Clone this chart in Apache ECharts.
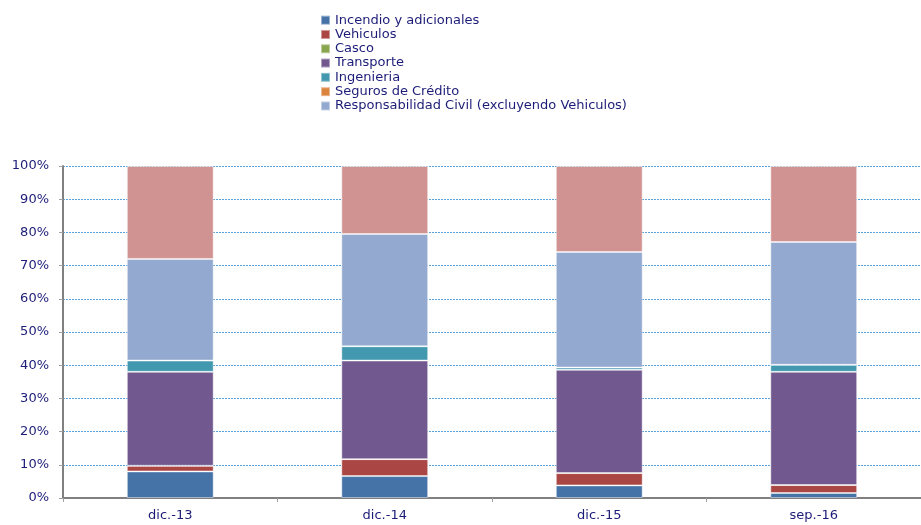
<!DOCTYPE html>
<html>
<head>
<meta charset="utf-8">
<script src="https://cdn.jsdelivr.net/npm/echarts@6/dist/echarts.min.js"></script>
<style>html,body{margin:0;padding:0;background:#fff}#c{width:921px;height:525px}</style>
</head>
<body>
<div id="c"></div>
<script>
const categories = ['dic.-13', 'dic.-14', 'dic.-15', 'sep.-16'];
const incendio = [8.0, 6.6, 3.8, 1.5];
const vehiculos = [1.7, 5.1, 3.7, 2.4];
const casco = [0, 0, 0, 0];
const transporte = [28.3, 29.7, 31.1, 34.1];
const ingenieria = [3.4, 4.3, 0.7, 2.1];
const seguros = [0, 0, 0, 0];
const respCivil = [30.6, 33.8, 34.8, 37.0];
const otros = [28.0, 20.5, 25.9, 22.9];
const yTicks = [0, 10, 20, 30, 40, 50, 60, 70, 80, 90, 100];

const seriesDefs = [
  ['Incendio y adicionales', incendio, '#4572A7'],
  ['Vehiculos', vehiculos, '#AA4643'],
  ['Casco', casco, '#89A54E'],
  ['Transporte', transporte, '#71588F'],
  ['Ingenieria', ingenieria, '#4198AF'],
  ['Seguros de Crédito', seguros, '#DB843D'],
  ['Responsabilidad Civil (excluyendo Vehiculos)', respCivil, '#93A9CF'],
  ['Otros', otros, '#D19392']
];
const txt = '#1C1C78';
const font = 'DejaVu Sans';
const chart = echarts.init(document.getElementById('c'));
chart.setOption({
  animation: false,
  textStyle: { fontFamily: font },
  legend: {
    data: seriesDefs.slice(0, 7).map(s => s[0]),
    orient: 'vertical',
    left: 320, top: 13,
    padding: 0,
    itemWidth: 9, itemHeight: 9, itemGap: 0,
    icon: 'rect',
    textStyle: { color: txt, fontSize: 13, fontFamily: font, lineHeight: 14.3 }
  },
  grid: { left: 63, right: 0, top: 166, bottom: 27, containLabel: false },
  xAxis: {
    type: 'category', data: categories,
    axisLine: { lineStyle: { color: '#808080', width: 2 } },
    axisTick: { show: true, alignWithLabel: false, length: 4, lineStyle: { color: '#A0A0A0' } },
    axisLabel: { color: txt, fontSize: 13, fontFamily: font, margin: 11 }
  },
  yAxis: {
    type: 'value', min: 0, max: 100, interval: 10,
    axisLine: { show: true, lineStyle: { color: '#808080', width: 2 } },
    axisTick: { show: true, length: 4, lineStyle: { color: '#A0A0A0' } },
    axisLabel: { color: txt, fontSize: 13, fontFamily: font, formatter: '{value}%', margin: 14 },
    splitLine: { lineStyle: { color: '#5AA2DA', type: [2, 1], width: 1 } }
  },
  series: seriesDefs.map(s => ({
    name: s[0], type: 'bar', stack: 'total', data: s[1], barWidth: '40.5%',
    itemStyle: { color: s[2], borderColor: 'rgba(255,255,255,0.45)', borderWidth: 1 }
  }))
});
</script>
</body>
</html>
